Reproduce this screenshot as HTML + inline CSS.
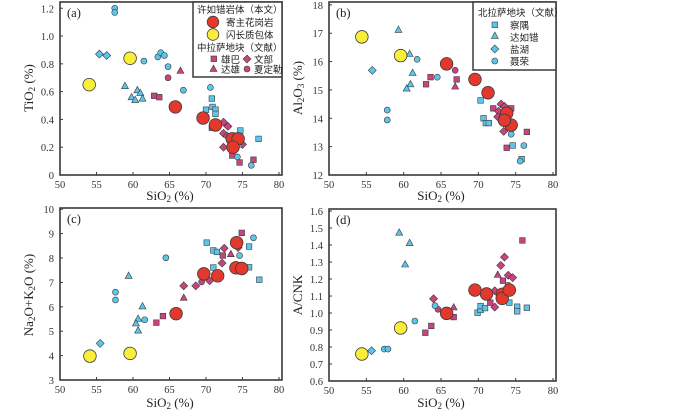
<!DOCTYPE html>
<html><head><meta charset="utf-8">
<style>
html,body{margin:0;padding:0;background:#fff;}
svg{display:block;font-family:"Liberation Serif","Noto Serif CJK SC",serif;}
</style></head>
<body>
<svg id="chart" width="700" height="412" viewBox="0 0 700 412"></svg>
<script>
// ---------- DATA ----------
// Panel (a) SiO2 vs TiO2
const aHostX=[65.8,69.6,71.3,73.6,74.4,73.7];
const aHostY=[0.49,0.41,0.36,0.26,0.26,0.20];
const aEnclX=[54.0,59.6];
const aEnclY=[0.65,0.84];
const aXbX=[62.9,63.6,70.8,73.6,74.6,76.5];
const aXbY=[0.57,0.56,0.34,0.14,0.09,0.11];
const aWbX=[72.4,73.0,72.4,72.9,72.4,75.0];
const aWbY=[0.38,0.35,0.30,0.28,0.20,0.22];
const aDxX=[66.5];
const aDxY=[0.75];
const aXdX=[64.8];
const aXdY=[0.70];
const aCyX=[70.8,70.9,71.3,71.3,70.0,74.7,74.6,74.5,77.2];
const aCyY=[0.55,0.49,0.47,0.44,0.47,0.32,0.25,0.22,0.26];
const aDrX=[58.9,60.6,61.0,59.8,60.3,61.3];
const aDrY=[0.64,0.61,0.59,0.56,0.54,0.55];
const aYhX=[55.4,56.4];
const aYhY=[0.87,0.86];
const aNrX=[57.5,57.5,61.5,63.4,63.8,64.3,64.8,66.9,70.6,74.3,76.2];
const aNrY=[1.20,1.17,0.82,0.85,0.88,0.86,0.78,0.61,0.63,0.13,0.07];
// Panel (b) SiO2 vs Al2O3
const bHostX=[65.75,69.55,71.3,73.8,74.4,73.5];
const bHostY=[15.92,15.37,14.9,14.18,13.76,13.93];
const bEnclX=[54.4,59.6];
const bEnclY=[16.87,16.21];
const bXbX=[63.6,63.0,67.1,72.0,74.4,76.5,73.8];
const bXbY=[15.45,15.2,15.37,14.35,14.35,13.52,12.96];
const bWbX=[73.05,73.5,72.7,72.6,73.4];
const bWbY=[14.5,14.42,14.25,14.05,13.54];
const bDxX=[66.9];
const bDxY=[15.12];
const bXdX=[66.9];
const bXdY=[15.69];
const bCyX=[70.3,70.7,71.0,71.4,74.6,75.8];
const bCyY=[14.63,14.0,13.83,13.83,13.04,12.56];
const bDrX=[59.3,60.8,61.2,60.9,60.4];
const bDrY=[17.12,16.27,15.6,15.2,15.05];
const bYhX=[55.8];
const bYhY=[15.69];
const bNrX=[61.8,64.5,57.8,57.8,74.4,76.1,75.6];
const bNrY=[16.08,15.45,14.29,13.94,13.44,13.04,12.49];
// Panel (c) SiO2 vs Na2O+K2O
const cHostX=[65.9,69.7,71.6,74.2,74.1,74.9];
const cHostY=[5.72,7.35,7.27,8.63,7.6,7.57];
const cEnclX=[54.1,59.6];
const cEnclY=[3.98,4.09];
const cXbX=[63.2,64.1,72.3,74.9];
const cXbY=[5.35,5.62,8.1,9.03];
const cWbX=[66.95,68.6,70.5,72.2,72.5,74.4];
const cWbY=[6.86,6.86,7.07,7.79,8.4,8.43];
const cDxX=[66.95,73.4];
const cDxY=[6.37,8.16];
const cXdX=[69.4];
const cXdY=[7.02];
const cCyX=[70.1,71.0,71.5,71.0,74.8,75.9,75.9,77.3];
const cCyY=[8.63,8.31,8.25,7.61,7.54,8.47,7.62,7.11];
const cDrX=[59.4,61.3,60.7,60.4,60.7];
const cDrY=[7.27,6.02,5.51,5.32,5.03];
const cYhX=[55.5];
const cYhY=[4.5];
const cNrX=[57.6,57.6,61.6,64.5,74.6,76.5];
const cNrY=[6.6,6.28,5.47,8.01,8.1,8.83];
// Panel (d) SiO2 vs A/CNK
const dHostX=[65.75,69.55,71.1,73.2,73.2,74.15];
const dHostY=[0.998,1.135,1.112,1.11,1.086,1.135];
const dEnclX=[54.4,59.6];
const dEnclY=[0.759,0.912];
const dXbX=[62.9,63.7,66.7,73.3,71.6,74.1,75.9];
const dXbY=[0.884,0.924,0.976,1.19,1.061,1.12,1.427];
const dWbX=[64.0,72.2,72.2,73.0,73.5,74.0,74.6];
const dWbY=[1.084,1.131,1.035,1.28,1.329,1.222,1.208];
const dDxX=[66.7,72.6];
const dDxY=[1.033,1.225];
const dXdX=[64.6];
const dXdY=[1.022];
const dCyX=[69.9,70.3,70.3,70.9,74.15,75.2,75.2,76.5];
const dCyY=[1.002,1.018,1.041,1.029,1.061,1.037,1.01,1.031];
const dDrX=[59.4,60.8,60.2];
const dDrY=[1.473,1.412,1.286];
const dYhX=[55.7];
const dYhY=[0.778];
const dNrX=[57.4,57.9,61.5,64.2,74.0];
const dNrY=[0.788,0.788,0.953,1.043,1.163];

const xTicks=[50,55,60,65,70,75,80];
const aTicks=[0,0.2,0.4,0.6,0.8,1.0,1.2];
const bTicks=[12,13,14,15,16,17,18];
const cTicks=[3,4,5,6,7,8,9,10];
const dTicks=[0.6,0.7,0.8,0.9,1.0,1.1,1.2,1.3,1.4,1.5,1.6];

// ---------- DRAW ----------
const NS="http://www.w3.org/2000/svg";
const svg=document.getElementById('chart');
function mk(tag,attrs,parent){const e=document.createElementNS(NS,tag);for(const k in attrs)e.setAttribute(k,attrs[k]);(parent||svg).appendChild(e);return e;}
const RED="#e2392c",YEL="#fbee3a",MAG="#c9447e",CYN="#5cc6ea",STK="#3a3a3a";

function marker(g,shape,x,y,fill,big){
  let e;
  if(shape==='bigc'){e=mk('circle',{cx:x,cy:y,r:6.3,fill:fill,stroke:STK,'stroke-width':0.8},g);}
  else if(shape==='sq'){e=mk('rect',{x:x-2.8,y:y-2.8,width:5.6,height:5.6,fill:fill,stroke:STK,'stroke-width':0.6},g);}
  else if(shape==='di'){e=mk('polygon',{points:`${x},${y-4} ${x+4},${y} ${x},${y+4} ${x-4},${y}`,fill:fill,stroke:STK,'stroke-width':0.6},g);}
  else if(shape==='tr'){e=mk('polygon',{points:`${x},${y-3.8} ${x+3.5},${y+2.6} ${x-3.5},${y+2.6}`,fill:fill,stroke:STK,'stroke-width':0.6},g);}
  else {e=mk('circle',{cx:x,cy:y,r:3,fill:fill,stroke:STK,'stroke-width':0.6},g);}
  return e;
}

function panel(id,L,R,T,B,ymin,ymax,yTicks,yFmt,series,lbl){
  const g=mk('g',{});
  
  
  const sx=v=>L+(v-50)/30*(R-L-3);
  const sy=v=>B-(v-ymin)/(ymax-ymin)*(B-T);
  const box=mk('rect',{x:L,y:T,width:R-L,height:B-T,fill:'none',stroke:STK,'stroke-width':1.6},g);
  
  
  xTicks.forEach(t=>{
    const x=sx(t);
    mk('line',{x1:x,y1:B,x2:x,y2:B-3,stroke:STK,'stroke-width':1},g);
    const tx=mk('text',{x:x,y:B+13,'font-size':10.5,'text-anchor':'middle',fill:'#333'},g);
    tx.textContent=t;
    
    
  });
  yTicks.forEach(t=>{
    const y=sy(t);
    mk('line',{x1:L,y1:y,x2:L+3,y2:y,stroke:STK,'stroke-width':1},g);
    const tx=mk('text',{x:L-6,y:y+4,'font-size':10.5,'text-anchor':'end',fill:'#333'},g);
    tx.textContent=yFmt(t);
    
    
  });
  series.forEach(s=>{
    s.xs.forEach((xv,i)=>{
      const m=marker(g,s.shape,sx(xv),sy(s.ys[i]),s.fill);
      
      
    });
  });
  const pl=mk('text',{x:L+7,y:T+15,'font-size':12.5,fill:'#222'},g);
  pl.textContent=lbl;
  
  
  return g;
}
function S(name,shape,fill,xs,ys){return {name,shape,fill,xs,ys};}
const f1=t=>t===0?'0':t.toFixed(1);
const f0=t=>String(t);

panel('a',60,282,2,175,0,1.245,aTicks,f1,[
  S('xiongba','sq',MAG,aXbX,aXbY),S('wenbu','di',MAG,aWbX,aWbY),S('daxiong','tr',MAG,aDxX,aDxY),S('xiadingle','ci',MAG,aXdX,aXdY),
  S('chayu','sq',CYN,aCyX,aCyY),S('daruco','tr',CYN,aDrX,aDrY),S('yanhu','di',CYN,aYhX,aYhY),S('nierong','ci',CYN,aNrX,aNrY),
  S('host-granite','bigc',RED,aHostX,aHostY),S('dioritic-enclave','bigc',YEL,aEnclX,aEnclY)],'(a)');
panel('b',329,556,2,175,12,18.1,bTicks,f0,[
  S('xiongba','sq',MAG,bXbX,bXbY),S('wenbu','di',MAG,bWbX,bWbY),S('daxiong','tr',MAG,bDxX,bDxY),S('xiadingle','ci',MAG,bXdX,bXdY),
  S('chayu','sq',CYN,bCyX,bCyY),S('daruco','tr',CYN,bDrX,bDrY),S('yanhu','di',CYN,bYhX,bYhY),S('nierong','ci',CYN,bNrX,bNrY),
  S('host-granite','bigc',RED,bHostX,bHostY),S('dioritic-enclave','bigc',YEL,bEnclX,bEnclY)],'(b)');
panel('c',60,282,208,380,3,10.05,cTicks,f0,[
  S('xiongba','sq',MAG,cXbX,cXbY),S('wenbu','di',MAG,cWbX,cWbY),S('daxiong','tr',MAG,cDxX,cDxY),S('xiadingle','ci',MAG,cXdX,cXdY),
  S('chayu','sq',CYN,cCyX,cCyY),S('daruco','tr',CYN,cDrX,cDrY),S('yanhu','di',CYN,cYhX,cYhY),S('nierong','ci',CYN,cNrX,cNrY),
  S('host-granite','bigc',RED,cHostX,cHostY),S('dioritic-enclave','bigc',YEL,cEnclX,cEnclY)],'(c)');
panel('d',329,556,209,381,0.6,1.612,dTicks,f1,[
  S('xiongba','sq',MAG,dXbX,dXbY),S('wenbu','di',MAG,dWbX,dWbY),S('daxiong','tr',MAG,dDxX,dDxY),S('xiadingle','ci',MAG,dXdX,dXdY),
  S('chayu','sq',CYN,dCyX,dCyY),S('daruco','tr',CYN,dDrX,dDrY),S('yanhu','di',CYN,dYhX,dYhY),S('nierong','ci',CYN,dNrX,dNrY),
  S('host-granite','bigc',RED,dHostX,dHostY),S('dioritic-enclave','bigc',YEL,dEnclX,dEnclY)],'(d)');
</script>

<!-- axis titles -->
<svg width="700" height="412" style="position:absolute;left:0;top:0;font-family:'Liberation Serif','Noto Serif CJK SC',serif;">
  <text x="170" y="200" font-size="13" text-anchor="middle" fill="#222">SiO<tspan font-size="9" dy="2">2</tspan><tspan dy="-2"> (%)</tspan></text>
  <text x="441" y="200" font-size="13" text-anchor="middle" fill="#222">SiO<tspan font-size="9" dy="2">2</tspan><tspan dy="-2"> (%)</tspan></text>
  <text x="170" y="407" font-size="13" text-anchor="middle" fill="#222">SiO<tspan font-size="9" dy="2">2</tspan><tspan dy="-2"> (%)</tspan></text>
  <text x="441" y="407" font-size="13" text-anchor="middle" fill="#222">SiO<tspan font-size="9" dy="2">2</tspan><tspan dy="-2"> (%)</tspan></text>
  <text transform="translate(33,88) rotate(-90)" font-size="13" text-anchor="middle" fill="#222">TiO<tspan font-size="9" dy="2">2</tspan><tspan dy="-2"> (%)</tspan></text>
  <text transform="translate(302,88) rotate(-90)" font-size="13" text-anchor="middle" fill="#222">Al<tspan font-size="9" dy="2">2</tspan><tspan dy="-2">O</tspan><tspan font-size="9" dy="2">3</tspan><tspan dy="-2"> (%)</tspan></text>
  <text transform="translate(33,295) rotate(-90)" font-size="13" text-anchor="middle" fill="#222">Na<tspan font-size="9" dy="2">2</tspan><tspan dy="-2">O+K</tspan><tspan font-size="9" dy="2">2</tspan><tspan dy="-2">O (%)</tspan></text>
  <text transform="translate(302,295) rotate(-90)" font-size="13" text-anchor="middle" fill="#222">A/CNK</text>

  <!-- legend a -->
  <g font-family="'Liberation Sans','Noto Sans CJK SC',sans-serif" font-size="9.5" fill="#222">
    <rect x="193" y="2" width="89" height="75" fill="#fff" stroke="#3a3a3a" stroke-width="1.5"/>
    <text x="197" y="13">许如错岩体（本文）</text>
    <circle cx="213" cy="22" r="5.8" fill="#e2392c" stroke="#3a3a3a" stroke-width="0.8"/>
    <text x="226" y="26">寄主花岗岩</text>
    <circle cx="213" cy="34.5" r="5.8" fill="#fbee3a" stroke="#3a3a3a" stroke-width="0.8"/>
    <text x="226" y="38.5">闪长质包体</text>
    <text x="197" y="51">中拉萨地块（文献）</text>
    <rect x="211" y="56" width="5.6" height="5.6" fill="#c9447e" stroke="#3a3a3a" stroke-width="0.6"/>
    <text x="221" y="63">雄巴</text>
    <polygon points="247,55 251,59 247,63 243,59" fill="#c9447e" stroke="#3a3a3a" stroke-width="0.6"/>
    <text x="254" y="63">文部</text>
    <polygon points="213.5,65 217,71.4 210,71.4" fill="#c9447e" stroke="#3a3a3a" stroke-width="0.6"/>
    <text x="221" y="73">达雄</text>
    <circle cx="247" cy="69" r="3" fill="#c9447e" stroke="#3a3a3a" stroke-width="0.6"/>
    <text x="254" y="73">夏定勒</text>
  </g>
  <!-- legend b -->
  <g font-family="'Liberation Sans','Noto Sans CJK SC',sans-serif" font-size="9.5" fill="#222">
    <rect x="473" y="2" width="83" height="68" fill="#fff" stroke="#3a3a3a" stroke-width="1.5"/>
    <text x="478" y="16">北拉萨地块（文献）</text>
    <rect x="492" y="22" width="5.6" height="5.6" fill="#5cc6ea" stroke="#3a3a3a" stroke-width="0.6"/>
    <text x="510" y="29">察隅</text>
    <polygon points="494.8,32 498.3,38.4 491.3,38.4" fill="#5cc6ea" stroke="#3a3a3a" stroke-width="0.6"/>
    <text x="510" y="41">达如错</text>
    <polygon points="494.8,45 498.8,49 494.8,53 490.8,49" fill="#5cc6ea" stroke="#3a3a3a" stroke-width="0.6"/>
    <text x="510" y="53">盐湖</text>
    <circle cx="494.8" cy="61" r="3" fill="#5cc6ea" stroke="#3a3a3a" stroke-width="0.6"/>
    <text x="510" y="65">聂荣</text>
  </g>
</svg>
</body></html>
